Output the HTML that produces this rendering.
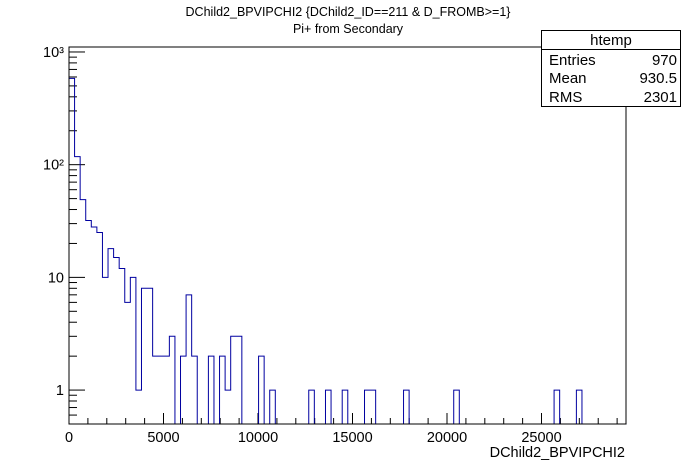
<!DOCTYPE html>
<html><head><meta charset="utf-8"><style>
html,body{margin:0;padding:0;background:#fff}
svg{display:block;font-family:"Liberation Sans",sans-serif}
</style></head><body>
<svg id="c" width="696" height="472" viewBox="0 0 696 472">
<rect x="0" y="0" width="696" height="472" fill="#fff"/>
<text x="348" y="16" font-size="12.5" text-anchor="middle">DChild2_BPVIPCHI2 {DChild2_ID==211 &amp; D_FROMB&gt;=1}</text>
<text x="348" y="33" font-size="12.5" text-anchor="middle">Pi+ from Secondary</text>
<g id="axes"></g>
<path id="hist" fill="none" stroke="#0000a0" stroke-width="1"/>
<rect x="69" y="47" width="557" height="377" fill="none" stroke="#000" stroke-width="1"/>
<g>
<rect x="541.5" y="30.5" width="139" height="76" fill="#fff" stroke="#000"/>
<line x1="541.5" y1="49.5" x2="680.5" y2="49.5" stroke="#000"/>
<text x="611" y="45" font-size="15" text-anchor="middle">htemp</text>
<text x="549" y="65" font-size="15">Entries</text><text x="677" y="65" font-size="15" text-anchor="end">970</text>
<text x="549" y="83" font-size="15">Mean</text><text x="677" y="83" font-size="15" text-anchor="end">930.5</text>
<text x="549" y="102" font-size="15">RMS</text><text x="677" y="102" font-size="15" text-anchor="end">2301</text>
</g>
<text x="625" y="457" font-size="14.5" text-anchor="end">DChild2_BPVIPCHI2</text>
</svg>
<script>
const binWidth = 295;
const nBins = 100;
const binIndex = [0,1,2,3,4,5,6,7,8,9,10,11,12,13,14,15,16,17,18,20,21,22,25,27,28,29,30,34,36,43,46,49,53,54,60,69,87,91];
const binCount = [583,118,49,32,28,25,10,18,15,12,6,10,1,8,8,2,2,2,3,2,7,2,2,2,1,3,3,2,1,1,1,1,1,1,1,1,1,1];
const xTicks = [0,5000,10000,15000,20000,25000];
const yTicks = [1,10,100,1000];
const yTickLabels = ["1","10","10²","10³"];
const X0=69,X1=626,Y0=424,Y1=47,XMAX=29470,YMIN=0.5,YMAX=1107;
function sx(v){return X0+(v/XMAX)*(X1-X0);}
function sy(v){if(v<=0)return Y0+2;return Y0-(Math.log10(v)-Math.log10(YMIN))/(Math.log10(YMAX)-Math.log10(YMIN))*(Y0-Y1);}
const ns="http://www.w3.org/2000/svg";
const ax=document.getElementById('axes');
function line(x1,y1,x2,y2,name){const l=document.createElementNS(ns,'line');l.setAttribute('x1',x1);l.setAttribute('y1',y1);l.setAttribute('x2',x2);l.setAttribute('y2',y2);l.setAttribute('stroke','#000');


ax.appendChild(l);}
function text(x,y,s,anchor,name){const t=document.createElementNS(ns,'text');t.setAttribute('x',x);t.setAttribute('y',y);t.setAttribute('font-size','14.5');t.setAttribute('text-anchor',anchor);t.textContent=s;


ax.appendChild(t);}
for(let v=0;v<=XMAX;v+=1000){const x=sx(v);const major=v%5000===0;line(x,Y0,x,Y0-(major?11:6),'x-tick');}
xTicks.forEach(v=>text(sx(v),442,String(v),'middle','x-tick-label'));
for(let d=-1;d<=3;d++){for(let m=1;m<10;m++){const v=m*Math.pow(10,d);if(v<YMIN||v>YMAX)continue;const y=sy(v);line(X0,y,X0+(m===1?16:8),y,'y-tick');}}
yTicks.forEach((v,i)=>text(X0-5,sy(v)+5,yTickLabels[i],'end','y-tick-label'));
const counts=new Array(nBins).fill(0);
binIndex.forEach((b,i)=>{counts[b]=binCount[i];});
let d='M'+sx(0)+','+Y0;
for(let i=0;i<nBins;i++){const y=Math.min(sy(counts[i]),Y0);d+=' L'+sx(i*binWidth)+','+y+' L'+sx((i+1)*binWidth)+','+y;}
d+=' L'+sx(nBins*binWidth)+','+Y0;
document.getElementById('hist').setAttribute('d',d);
</script>
</body></html>
